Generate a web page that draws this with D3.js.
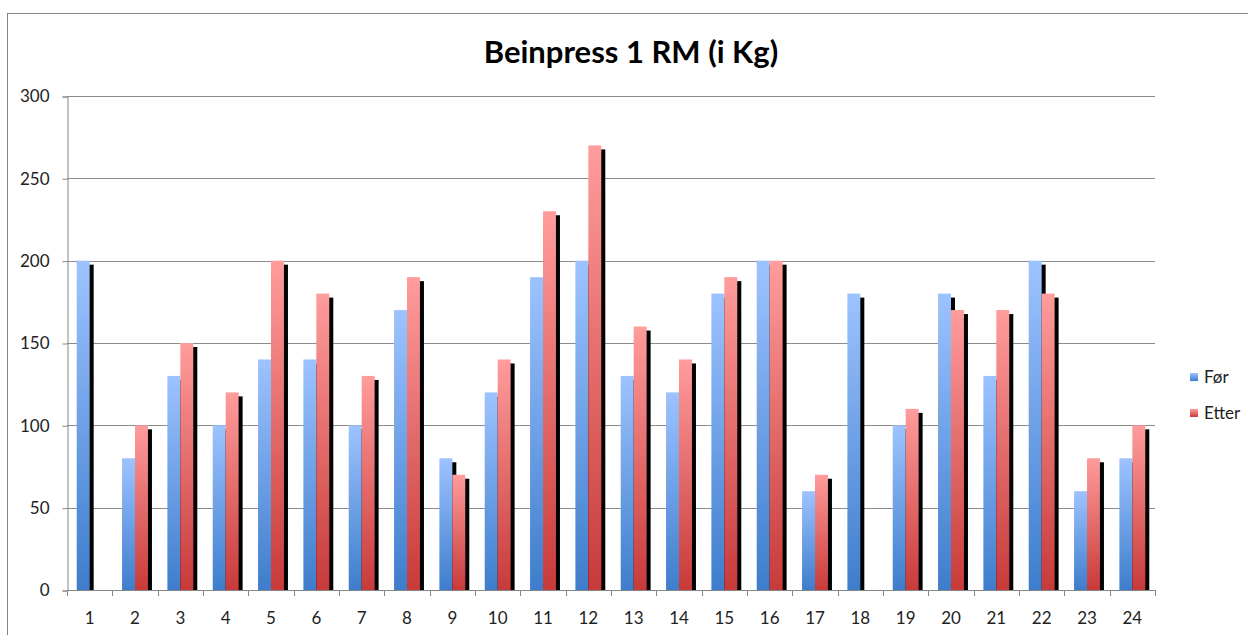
<!DOCTYPE html>
<html><head><meta charset="utf-8">
<script src="https://cdn.jsdelivr.net/npm/d3@7"></script>
<style>body{margin:0;background:#fff}svg{display:block}text{font-family:Lato,"Open Sans",sans-serif}</style>
</head><body>
<script>
const categories = ["1","2","3","4","5","6","7","8","9","10","11","12","13","14","15","16","17","18","19","20","21","22","23","24"];
const forValues   = [200,80,130,100,140,140,100,170,80,120,190,200,130,120,180,200,60,180,100,180,130,200,60,80];
const etterValues = [0,100,150,120,200,180,130,190,70,140,230,270,160,140,190,200,70,0,110,170,170,180,80,100];
const seriesNames = ["Før","Etter"];
const yTicks = [0,50,100,150,200,250,300];
const title = "Beinpress 1 RM (i Kg)";

const W=1248,H=635;
const svg=d3.select("body").append("svg").attr("width",W).attr("height",H);
const defs=svg.append("defs");
function grad(id,top,bot){
  const g=defs.append("linearGradient").attr("id",id).attr("x1",0).attr("y1",0).attr("x2",0).attr("y2",1);
  g.append("stop").attr("offset","0%").attr("stop-color",top);
  g.append("stop").attr("offset","100%").attr("stop-color",bot);
}
grad("gBlue","#9dc3ff","#3e7dcc");
grad("gRed","#ff9c9c","#c83a3a");

// outer border
svg.append("rect").attr("x",7.5).attr("y",13.5).attr("width",1260).attr("height",700)
  .attr("fill","none").attr("stroke","#868686").attr("stroke-width",1);

const L=67,R=1155,T=96,B=590;
const x=d3.scaleBand().domain(categories).range([L,R]).paddingInner(0).paddingOuter(0);
const y=d3.scaleLinear().domain([0,300]).range([B,T]);
const bw=x.bandwidth()/3.5;
const off=bw*0.75;

// gridlines
svg.append("g").selectAll("line").data(yTicks.filter(d=>d>0)).join("line")
  .attr("x1",L).attr("x2",R).attr("y1",d=>Math.round(y(d))+0.5).attr("y2",d=>Math.round(y(d))+0.5)
  .attr("stroke","#8c8c8c").attr("stroke-width",1);

// y axis
const yAxis=d3.axisLeft(y).tickValues(yTicks).tickSize(5).tickPadding(13);
const gy=svg.append("g").attr("transform",`translate(${L+0.5},0.5)`).call(yAxis);
gy.select(".domain").attr("stroke","#868686");
gy.selectAll(".tick line").attr("stroke","#868686");
gy.selectAll("text").attr("font-size",17).attr("fill","#222");

const data=categories.map((c,i)=>({c,vals:[forValues[i],etterValues[i]]}));
const fills=["url(#gBlue)","url(#gRed)"];

// shadows
const clip=defs.append("clipPath").attr("id","clipP");
clip.append("rect").attr("x",L).attr("y",0).attr("width",R-L+10).attr("height",B+1);
const shadowG=svg.append("g").attr("clip-path","url(#clipP)");
data.forEach(d=>{
  d.vals.forEach((v,s)=>{
    if(v<=0)return;
    shadowG.append("rect").attr("x",x(d.c)+off+s*bw+4).attr("y",y(v)+4)
      .attr("width",bw).attr("height",B-y(v)).attr("fill","#000");
  });
});
// bars
const barG=svg.append("g");
data.forEach(d=>{
  d.vals.forEach((v,s)=>{
    if(v<=0)return;
    barG.append("rect").attr("x",x(d.c)+off+s*bw).attr("y",y(v))
      .attr("width",bw).attr("height",B-y(v)).attr("fill",fills[s]);
  });
});

// x axis
const xb=svg.append("g");
xb.append("line").attr("x1",L).attr("x2",R).attr("y1",B+0.5).attr("y2",B+0.5).attr("stroke","#868686");
const bounds=categories.map(c=>x(c)).concat([R]);
xb.selectAll("line.tk").data(bounds).join("line").attr("class","tk")
  .attr("x1",d=>Math.round(d)+0.5).attr("x2",d=>Math.round(d)+0.5).attr("y1",B).attr("y2",B+6).attr("stroke","#868686");
xb.selectAll("text").data(categories).join("text")
  .attr("x",d=>x(d)+x.bandwidth()/2).attr("y",624).attr("text-anchor","middle")
  .attr("font-size",17).attr("fill","#222").text(d=>d);

// title
svg.append("text").attr("x",631).attr("y",63).attr("text-anchor","middle")
  .attr("font-size",31).attr("font-weight","bold").attr("fill","#000").text(title);

// legend
const lg=svg.append("g");
seriesNames.forEach((n,i)=>{
  const yy=377+i*36;
  lg.append("rect").attr("x",1190).attr("y",yy-4).attr("width",8).attr("height",8).attr("fill",fills[i]);
  lg.append("text").attr("x",1204).attr("y",yy+6).attr("font-size",17).attr("fill","#222").text(n);
});
</script>
</body></html>
